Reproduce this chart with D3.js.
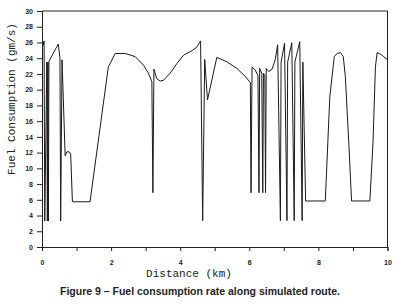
<!DOCTYPE html>
<html>
<head>
<meta charset="utf-8">
<script src="https://cdn.jsdelivr.net/npm/d3@7/dist/d3.min.js"></script>
<style>
  html, body { margin: 0; padding: 0; background: #fff; }
  svg { display: block; }
</style>
</head>
<body>
<div id="chart"></div>
<script>
// Fuel consumption rate along a simulated route (Figure 9).
// Values read off the scanned figure, so they are estimates.

// ── Data ────────────────────────────────────────────────────────────────────
const distanceKm = [
  0.00, 0.03, 0.06, 0.08, 0.14, 0.155, 0.17, 0.185, 0.20, 0.47,
  0.52, 0.54, 0.58, 0.67, 0.72, 0.79, 0.83, 0.88, 1.39, 1.92,
  2.12, 2.41, 2.70, 2.94, 3.08, 3.18, 3.21, 3.24, 3.32, 3.42,
  3.52, 3.71, 3.90, 4.10, 4.34, 4.48, 4.59, 4.65, 4.71, 4.79,
  5.06, 5.35, 5.64, 5.88, 6.03, 6.05, 6.08, 6.17, 6.25, 6.28,
  6.30, 6.36, 6.39, 6.41, 6.45, 6.47, 6.49, 6.56, 6.66, 6.75,
  6.82, 6.90, 6.92, 7.02, 7.09, 7.11, 7.23, 7.30, 7.32, 7.46,
  7.53, 7.55, 7.63, 8.20, 8.33, 8.46, 8.54, 8.64, 8.72, 8.78,
  8.88, 8.96, 9.49, 9.58, 9.65, 9.70, 9.80, 9.89, 10.00
];
const fuelRate = [
  25.7, 25.6, 26.2, 3.3, 23.5, 3.3, 23.5, 3.3, 23.6, 25.8,
  24.0, 3.3, 23.8, 11.6, 12.1, 12.1, 11.8, 5.75, 5.75, 22.9,
  24.6, 24.6, 24.2, 23.1, 22.1, 21.0, 6.9, 22.6, 21.4, 21.1,
  21.2, 22.1, 23.3, 24.4, 24.95, 25.4, 26.2, 3.35, 23.85, 18.7,
  24.1, 23.55, 22.7, 21.7, 20.9, 6.9, 22.9, 22.5, 21.8, 6.9,
  22.7, 22.1, 6.9, 22.1, 21.8, 6.9, 22.7, 22.3, 22.6, 23.8,
  25.7, 3.35, 23.5, 25.9, 3.35, 23.5, 25.97, 3.35, 23.5, 26.1,
  3.35, 23.5, 5.85, 5.85, 19.1, 24.2, 24.6, 24.7, 24.2, 21.65,
  13.2, 5.85, 5.85, 13.2, 22.9, 24.7, 24.5, 24.2, 23.8
];
const xTicks = [0, 1, 2, 3, 4, 5, 6, 7, 8, 9, 10];
const xTickLabels = ['0', '', '2', '', '4', '', '6', '', '8', '', '10'];
const yTicks = [0, 2, 4, 6, 8, 10, 12, 14, 16, 18, 20, 22, 24, 26, 28, 30];

const X_TITLE = 'Distance (km)';
const Y_TITLE = 'Fuel Consumption (gm/s)';
const CAPTION = 'Figure 9 \u2013 Fuel consumption rate along simulated route.';

// ── Layout ──────────────────────────────────────────────────────────────────
const WIDTH = 400, HEIGHT = 306;
const margin = { top: 11, right: 12.5, bottom: 59, left: 42 };
const INK = '#222';
const MONO = '"Liberation Mono", "DejaVu Sans Mono", monospace';
const SANS = '"Liberation Sans", Arial, sans-serif';

const svg = d3.select('#chart').append('svg')
  .attr('width', WIDTH).attr('height', HEIGHT);

const x = d3.scaleLinear().domain([0, 10]).range([margin.left, WIDTH - margin.right]);
const y = d3.scaleLinear().domain([0, 30]).range([HEIGHT - margin.bottom, margin.top]);

// Axes: small bold numbers, ticks pointing outwards.
const xAxis = svg.append('g')
  .attr('transform', `translate(0,${y(0)})`)
  .call(d3.axisBottom(x).tickValues(xTicks).tickSizeOuter(0).tickSize(4).tickPadding(9)
    .tickFormat((d, i) => xTickLabels[i]));
const yAxis = svg.append('g')
  .attr('transform', `translate(${x(0)},0)`)
  .call(d3.axisLeft(y).tickValues(yTicks).tickSizeOuter(0).tickSize(5).tickPadding(4));

[xAxis, yAxis].forEach(axis => {
  axis.selectAll('path, line').attr('stroke', INK).attr('stroke-width', 1);
  axis.selectAll('text').attr('fill', INK).attr('font-family', SANS)
    .attr('font-weight', 700).attr('font-size', 7);
});

// Top and right edges of the frame.
svg.append('path')
  .attr('d', `M${x(0)},${y(30)}H${x(10)}V${y(0)}`)
  .attr('fill', 'none').attr('stroke', INK).attr('stroke-width', 1);

// The consumption trace.
const points = distanceKm.map((d, i) => [d, fuelRate[i]]);
svg.append('path')
  .datum(points)
  .attr('fill', 'none').attr('stroke', '#1a1a1a').attr('stroke-width', 1)
  .attr('stroke-linejoin', 'miter')
  .attr('d', d3.line().x(p => x(p[0])).y(p => y(p[1])));

// Titles and caption.
svg.append('text')
  .attr('x', 189).attr('y', 277)
  .attr('text-anchor', 'middle').attr('font-family', MONO).attr('font-size', 11)
  .attr('fill', INK).text(X_TITLE);

svg.append('text')
  .attr('transform', `translate(14.5,99) rotate(-90)`)
  .attr('text-anchor', 'middle').attr('font-family', MONO).attr('font-size', 11)
  .attr('fill', INK).text(Y_TITLE);

svg.append('text')
  .attr('x', 200).attr('y', 295)
  .attr('text-anchor', 'middle').attr('font-family', SANS).attr('font-weight', 700)
  .attr('font-size', 10.5).attr('fill', INK).text(CAPTION);
</script>
</body>
</html>
